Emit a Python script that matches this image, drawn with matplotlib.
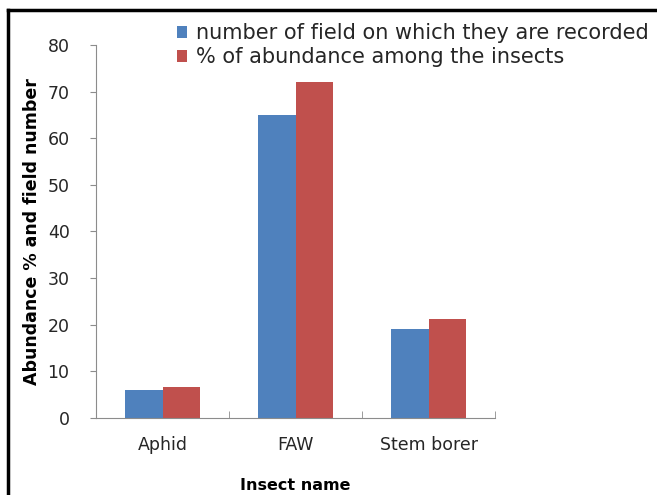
import matplotlib
matplotlib.use('Agg')
import numpy as np
import matplotlib.pyplot as plt
from matplotlib.lines import Line2D

plt.rcParams['font.family'] = ['DejaVu Sans']

# data
insects = ['Aphid', 'FAW', 'Stem borer']
field_count = [6, 65, 19]
abundance_pct = [6.7, 72, 21.3]
legend_labels = ['number of field on which they are recorded',
                 '% of abundance among the insects']

blue = '#4F81BD'
red = '#C0504D'
grey = '#8C8C8C'
txt = '#262626'

fig = plt.figure(figsize=(6.57, 4.95), dpi=100)
ax = fig.add_axes([96/657, 1-418/495, (495-96)/657, (418-45)/495])

x = np.arange(len(insects))
w = 0.28
b1 = ax.bar(x - w/2, field_count, w, color=blue, label=legend_labels[0])
b2 = ax.bar(x + w/2, abundance_pct, w, color=red, label=legend_labels[1])

ax.set_xlim(-0.5, 2.5)
ax.set_ylim(0, 80)
ax.set_yticks(range(0, 81, 10))
ax.set_xticks(x)
ax.set_xticklabels(insects)
ax.set_xticks([-0.5, 0.5, 1.5, 2.5], minor=True)
ax.tick_params(axis='x', which='major', length=0, pad=13, labelsize=12.5, colors=txt)
ax.tick_params(axis='x', which='minor', length=5, direction='in', color=grey)
ax.tick_params(axis='y', length=4, direction='out', color=grey, labelsize=12.5,
               labelcolor=txt, pad=15)
for s in ['top', 'right']:
    ax.spines[s].set_visible(False)
for s in ['left', 'bottom']:
    ax.spines[s].set_color(grey)

ax.set_ylabel('Abundance % and field number', fontsize=12.5, fontweight='bold',
              color='black', va='center')
ax.yaxis.set_label_coords((32 - 96) / 399, 0.5)
ax.set_xlabel('Insect name', fontsize=11.5, fontweight='bold', color='black',
              va='center')
ax.xaxis.set_label_coords(0.5, (418 - 485) / 373)

fig.legend(handles=[b1, b2], labels=legend_labels, loc='upper left',
           bbox_to_anchor=(177/657, 1-23/495), frameon=False, fontsize=15,
           handlelength=0.5, handleheight=0.5, handletextpad=0.4,
           labelspacing=0.2, borderaxespad=0, borderpad=0, labelcolor=txt)

# black frame around the picture (cropped on the right and bottom)
fig.add_artist(Line2D([8/657, 1], [1-10/495, 1-10/495], color='black', lw=2.5,
                      transform=fig.transFigure))
fig.add_artist(Line2D([8/657, 8/657], [1-10/495, 2/495], color='black', lw=2.5,
                      transform=fig.transFigure))

fig.savefig('out.png', dpi=100)
